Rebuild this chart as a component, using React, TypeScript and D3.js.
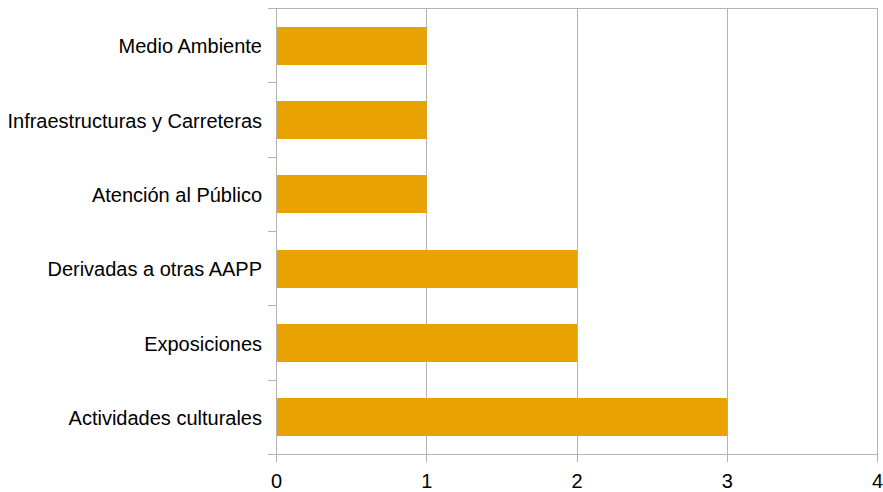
import { useEffect, useRef } from 'react';
import * as d3 from 'd3';

// categories listed top to bottom as drawn
const categories = [
  'Medio Ambiente',
  'Infraestructuras y Carreteras',
  'Atención al Público',
  'Derivadas a otras AAPP',
  'Exposiciones',
  'Actividades culturales',
];
const values = [1, 1, 1, 2, 2, 3];
const xTicks = [0, 1, 2, 3, 4];

const W = 883;
const H = 492;

const App = () => {
  const svgRef = useRef(null);

  useEffect(() => {
    const svg = d3.select(svgRef.current);
    svg.selectAll('*').remove();

    const left = 276;
    const right = 877;
    const top = 8;
    const bottom = 454;
    const gridColor = '#b3b3b3';
    const font = '"Liberation Sans", Arial, sans-serif';
    const fontSize = 20;

    const x = d3.scaleLinear().domain([0, 4]).range([left, right]);
    const y = d3.scaleBand()
      .domain(categories)
      .range([top, bottom])
      .paddingInner(0.49)
      .paddingOuter(0.245);

    const px = (v) => Math.round(v) + 0.5;

    // vertical grid lines
    svg.append('g')
      .selectAll('line')
      .data(xTicks.slice(1))
      .enter()
      .append('line')
      .attr('x1', d => px(x(d)))
      .attr('x2', d => px(x(d)))
      .attr('y1', top)
      .attr('y2', bottom)
      .attr('stroke', gridColor)
      .attr('stroke-width', 1);

    // top border line
    svg.append('line')
      .attr('x1', left - 8)
      .attr('x2', px(x(4)))
      .attr('y1', top + 0.5)
      .attr('y2', top + 0.5)
      .attr('stroke', gridColor);

    // bars
    svg.append('g')
      .selectAll('rect')
      .data(categories)
      .enter()
      .append('rect')
      .attr('x', x(0) + 0.5)
      .attr('y', d => Math.ceil(y(d)))
      .attr('width', (d, i) => x(values[i]) - x(0))
      .attr('height', Math.round(y.bandwidth()))
      .attr('fill', '#e8a202');

    // category axis line and ticks
    const step = y.step();
    svg.append('line')
      .attr('x1', px(left))
      .attr('x2', px(left))
      .attr('y1', top)
      .attr('y2', bottom)
      .attr('stroke', gridColor);
    svg.append('g')
      .selectAll('line')
      .data(d3.range(categories.length + 1))
      .enter()
      .append('line')
      .attr('x1', left - 8)
      .attr('x2', left)
      .attr('y1', i => px(top + i * step))
      .attr('y2', i => px(top + i * step))
      .attr('stroke', gridColor);

    // value axis line and ticks
    svg.append('line')
      .attr('x1', left - 8)
      .attr('x2', px(x(4)))
      .attr('y1', px(bottom))
      .attr('y2', px(bottom))
      .attr('stroke', gridColor);
    svg.append('g')
      .selectAll('line')
      .data(xTicks)
      .enter()
      .append('line')
      .attr('x1', d => px(x(d)))
      .attr('x2', d => px(x(d)))
      .attr('y1', bottom)
      .attr('y2', bottom + 8)
      .attr('stroke', gridColor);

    // category labels
    svg.append('g')
      .selectAll('text')
      .data(categories)
      .enter()
      .append('text')
      .attr('x', left - 14)
      .attr('y', d => y(d) + y.bandwidth() / 2 + 1)
      .attr('dy', '0.35em')
      .attr('text-anchor', 'end')
      .attr('font-family', font)
      .attr('font-size', fontSize)
      .attr('fill', '#000')
      .text(d => d);

    // value labels
    svg.append('g')
      .selectAll('text')
      .data(xTicks)
      .enter()
      .append('text')
      .attr('x', d => x(d) + 0.5)
      .attr('y', bottom + 34)
      .attr('text-anchor', 'middle')
      .attr('font-family', font)
      .attr('font-size', fontSize)
      .attr('fill', '#000')
      .text(d => d);
  }, []);

  return (
    <div style={{ position: 'absolute', left: 0, top: 0 }}>
      <svg ref={svgRef} width={W} height={H} style={{ display: 'block', background: '#fff' }}></svg>
    </div>
  );
};

export default App;
